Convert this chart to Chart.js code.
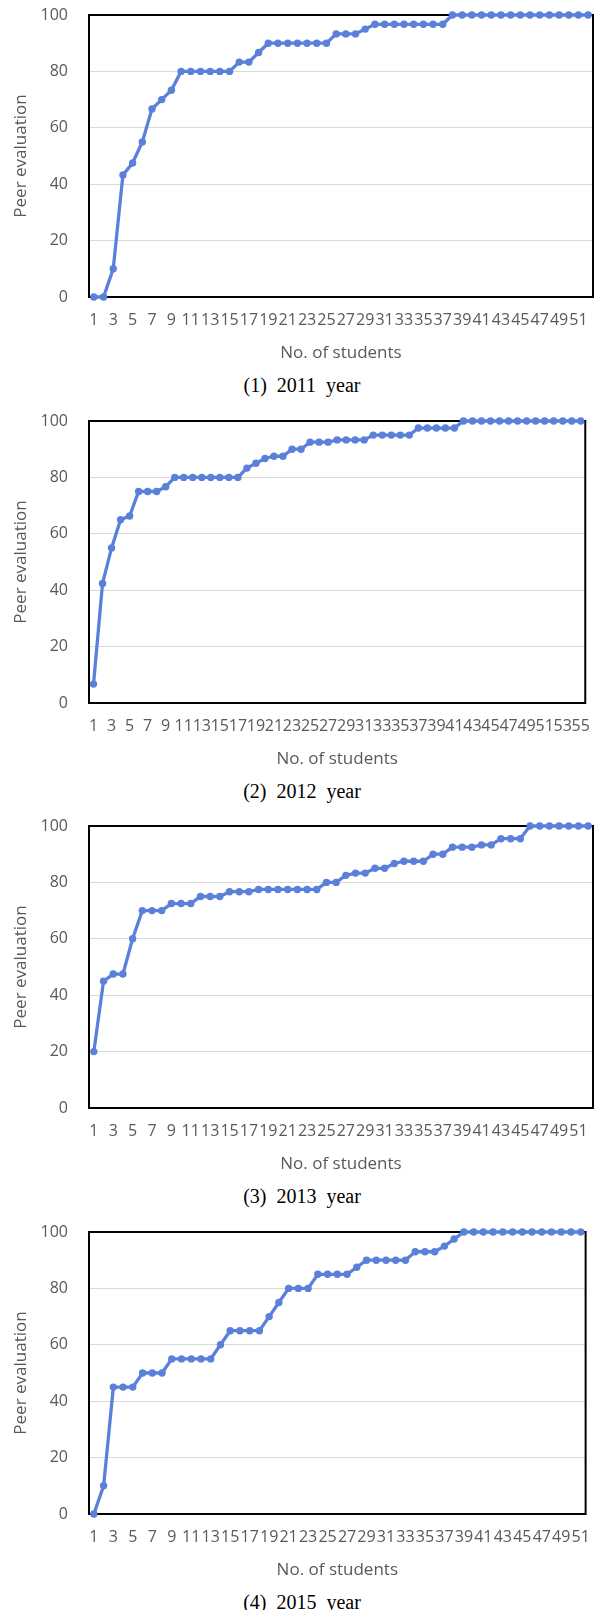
<!DOCTYPE html>
<html>
<head>
<meta charset="utf-8">
<script src="https://cdn.jsdelivr.net/npm/chart.js@4.4.1/dist/chart.umd.min.js"></script>
<style>
    body { margin: 0; background: #fff; }
    #page { position: relative; width: 604px; height: 1610px; overflow: hidden; }
    .panel { position: absolute; left: 0; }
    .caption {
        position: absolute; left: 0; width: 604px; height: 24px;
        text-align: center; line-height: 24px;
        font-family: 'Liberation Serif', 'DejaVu Serif', serif;
        font-size: 20px; color: #000; word-spacing: 5px;
    }
</style>
</head>
<body>
<div id="page"></div>
<script>
// student numbers (x categories)
const students = [1, 2, 3, 4, 5, 6, 7, 8, 9, 10, 11, 12, 13, 14, 15, 16, 17, 18, 19, 20,
    21, 22, 23, 24, 25, 26, 27, 28, 29, 30, 31, 32, 33, 34, 35, 36, 37, 38, 39, 40,
    41, 42, 43, 44, 45, 46, 47, 48, 49, 50, 51, 52, 53, 54, 55];

// peer evaluation scores
const scores2011 = [0, 0, 10, 43.3, 47.5, 55, 66.7, 70, 73.3, 80, 80, 80, 80, 80, 80,
    83.3, 83.3, 86.7, 90, 90, 90, 90, 90, 90, 90, 93.3, 93.3, 93.3, 95,
    96.7, 96.7, 96.7, 96.7, 96.7, 96.7, 96.7, 96.7,
    100, 100, 100, 100, 100, 100, 100, 100, 100, 100, 100, 100, 100, 100, 100];

const scores2012 = [6.7, 42.4, 55, 65, 66.3, 75, 75, 75, 76.7, 80, 80, 80, 80, 80, 80, 80, 80,
    83.3, 85, 86.7, 87.5, 87.5, 90, 90, 92.5, 92.5, 92.5, 93.3, 93.3, 93.3, 93.3,
    95, 95, 95, 95, 95, 97.5, 97.5, 97.5, 97.5, 97.5,
    100, 100, 100, 100, 100, 100, 100, 100, 100, 100, 100, 100, 100, 100];

const scores2013 = [20, 45, 47.5, 47.5, 60, 70, 70, 70, 72.5, 72.5, 72.5, 75, 75, 75,
    76.7, 76.7, 76.7, 77.5, 77.5, 77.5, 77.5, 77.5, 77.5, 77.5, 80, 80, 82.5, 83.3, 83.3,
    85, 85, 86.7, 87.5, 87.5, 87.5, 90, 90, 92.5, 92.5, 92.5, 93.3, 93.3, 95.5, 95.5, 95.5,
    100, 100, 100, 100, 100, 100, 100];

const scores2015 = [0, 10, 45, 45, 45, 50, 50, 50, 55, 55, 55, 55, 55, 60, 65, 65, 65, 65,
    70, 75, 80, 80, 80, 85, 85, 85, 85, 87.5, 90, 90, 90, 90, 90, 93, 93, 93, 95, 97.5,
    100, 100, 100, 100, 100, 100, 100, 100, 100, 100, 100, 100, 100];

const yTicks = [0, 20, 40, 60, 80, 100];
const captions = ['(1) 2011 year', '(2) 2012 year', '(3) 2013 year', '(4) 2015 year'];
const series = [scores2011, scores2012, scores2013, scores2015];

const lineColor = '#5b80d9';
const textColor = '#595959';
const PANEL_H = 367;
const PLOT_H = 282;
const panelTops = [0, 406, 811, 1217];

// black box around the plot area, drawn under the line
const plotFrame = {
    id: 'plotFrame',
    beforeDatasetsDraw(chart) {
        const { ctx, chartArea: a } = chart;
        ctx.save();
        ctx.strokeStyle = '#000';
        ctx.lineWidth = 2;
        ctx.strokeRect(a.left, a.top, a.right - a.left, a.bottom - a.top);
        ctx.restore();
    }
};

function drawPanel(index) {
    const page = document.getElementById('page');
    const values = series[index];
    const labels = students.slice(0, values.length);

    const canvas = document.createElement('canvas');
    canvas.className = 'panel';
    canvas.width = 604;
    canvas.height = PANEL_H;
    canvas.style.top = panelTops[index] + 'px';
    page.appendChild(canvas);

    const caption = document.createElement('div');
    caption.className = 'caption';
    caption.textContent = captions[index];
    caption.style.top = (panelTops[index] + 15 + PLOT_H + 88 - 12) + 'px';
    page.appendChild(caption);

    new Chart(canvas.getContext('2d'), {
        type: 'line',
        data: {
            labels: labels,
            datasets: [{
                data: values,
                borderColor: lineColor,
                backgroundColor: lineColor,
                borderWidth: 3.3,
                pointRadius: 3.7,
                pointBorderWidth: 0,
                tension: 0,
                clip: false
            }]
        },
        options: {
            responsive: false,
            animation: false,
            layout: { padding: { top: 15, right: 11, left: 0, bottom: 0 } },
            scales: {
                x: {
                    offset: true,
                    grid: { display: false, drawTicks: false },
                    border: { display: false },
                    ticks: {
                        autoSkip: false,
                        maxRotation: 0,
                        minRotation: 0,
                        padding: 14,
                        color: textColor,
                        font: { family: 'Open Sans', size: 16 },
                        callback: (v, i) => i % 2 === 0 ? labels[i] : ''
                    },
                    title: {
                        display: true,
                        text: 'No. of students',
                        color: textColor,
                        font: { family: 'Open Sans', size: 17 },
                        padding: { top: 0, bottom: 4 }
                    },
                    afterFit: s => { s.height = PANEL_H - 15 - PLOT_H; }
                },
                y: {
                    min: 0,
                    max: 100,
                    afterBuildTicks: s => { s.ticks = yTicks.map(v => ({ value: v })); },
                    // invisible tick marks keep the labels away from the frame
                    grid: { color: '#d9d9d9', lineWidth: 1, drawTicks: true, tickLength: 21, tickColor: 'rgba(0,0,0,0)' },
                    border: { display: false },
                    ticks: {
                        padding: 0,
                        color: textColor,
                        font: { family: 'Open Sans', size: 16 }
                    },
                    title: {
                        display: true,
                        text: 'Peer evaluation',
                        color: textColor,
                        font: { family: 'Open Sans', size: 17 },
                        padding: { top: 11, bottom: 0 }
                    },
                    afterFit: s => { s.width = 89; }
                }
            },
            plugins: {
                legend: { display: false },
                tooltip: { enabled: false }
            }
        },
        plugins: [plotFrame]
    });
}

series.forEach((s, i) => drawPanel(i));
</script>
</body>
</html>
